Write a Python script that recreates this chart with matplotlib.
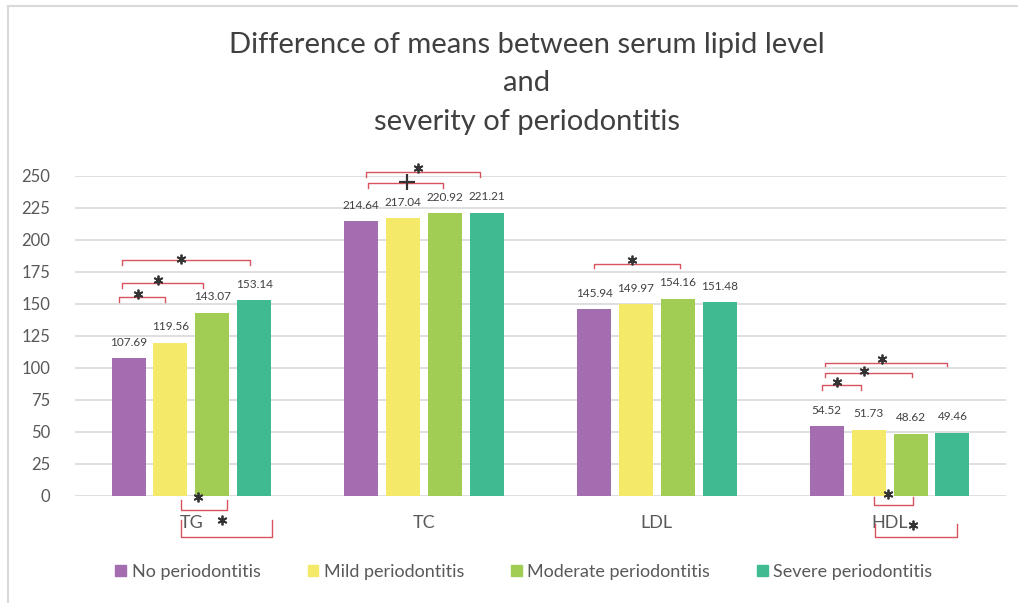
import numpy as np
import matplotlib.pyplot as plt
from matplotlib.lines import Line2D
from matplotlib.patches import Patch

#--- DATA ---#

lipids = ["TG", "TC", "LDL", "HDL"]
groups = ["No periodontitis", "Mild periodontitis", "Moderate periodontitis", "Severe periodontitis"]
no_perio = [107.69, 214.64, 145.94, 54.52]
mild_perio = [119.56, 217.04, 149.97, 51.73]
moderate_perio = [143.07, 220.92, 154.16, 48.62]
severe_perio = [153.14, 221.21, 151.48, 49.46]
yticks = np.arange(0, 251, 25)

# significance brackets: lipid index, left / right offset from group centre,
# bracket height, tick end height, symbol, symbol offset, symbol height
brackets = [
    (0, -0.311, -0.113, 155.5, 151.5, "*", -0.229, 158.0),
    (0, -0.298, 0.050, 166.4, 162.4, "*", -0.143, 168.5),
    (0, -0.298, 0.252, 184.4, 180.4, "*", -0.045, 185.0),
    (0, -0.045, 0.153, -10.9, -3.1, "*", 0.028, -0.8),
    (0, -0.045, 0.346, -32.0, -18.8, "*", 0.131, -18.8),
    (1, -0.241, 0.081, 244.5, 240.5, "+", -0.073, 245.3),
    (1, -0.249, 0.240, 253.1, 249.6, "*", -0.026, 256.0),
    (2, -0.271, 0.099, 181.2, 178.0, "*", -0.107, 184.4),
    (3, -0.289, -0.121, 86.7, 82.7, "*", -0.225, 89.0),
    (3, -0.276, 0.094, 96.1, 93.0, "*", -0.108, 97.7),
    (3, -0.276, 0.245, 103.9, 101.5, "*", -0.031, 107.0),
    (3, -0.069, 0.099, -7.0, -0.8, "*", -0.005, 1.6),
    (3, -0.061, 0.288, -32.0, -22.0, "*", 0.099, -22.7),
]

#--- STYLE ---#

cols = ["#A46DAF", "#F4E968", "#A2CD55", "#3FBA91"]
text_col = "#595959"
grid_col = "#D9D9D9"
red = "#D9535E"
font = ["Lato", "DejaVu Sans"]
plt.rcParams["font.family"] = font

bar_w = 0.146
step = 0.18

fig = plt.figure(figsize=(10.18, 6.03), dpi=100)
ax = fig.add_axes([75/1018, 1-496/603, 931/1018, 320/603])

series = [no_perio, mild_perio, moderate_perio, severe_perio]
x = np.arange(len(lipids))
for j, vals in enumerate(series):
    pos = x + (j - 1.5)*step
    ax.bar(pos, vals, width=bar_w, color=cols[j], zorder=3)
    for xx, v in zip(pos, vals):
        ax.annotate("%.2f" % v, (xx, v), xytext=(0, 11.5), textcoords="offset points",
                    ha="center", va="center", fontsize=8.5, color="#404040")

ax.set_xlim(-0.5, len(lipids) - 0.5)
ax.set_ylim(0, 250)
ax.set_yticks(yticks)
ax.set_xticks(x)
ax.set_xticklabels(lipids, fontsize=13, color=text_col)
ax.tick_params(axis="y", labelsize=12, labelcolor=text_col, length=0, pad=18)
ax.tick_params(axis="x", length=0, pad=14)
ax.yaxis.grid(True, color=grid_col, lw=1.2, zorder=0)
for s in ax.spines.values():
    s.set_visible(False)

# brackets
for g, x0, x1, yb, yt, sym, sx, sy in brackets:
    ax.plot([g + x0, g + x0, g + x1, g + x1], [yt, yb, yb, yt], color=red, lw=1,
            clip_on=False, zorder=4)
    if sym == "*":
        ax.plot(g + sx, sy, marker=(6, 2, 0), ms=7, mew=1.3, color="#333333",
                clip_on=False, zorder=5)
    else:
        ax.plot(g + sx, sy, marker="+", ms=11, mew=1.6, color="#333333",
                clip_on=False, zorder=5)

title_lines = ["Difference of means between serum lipid level", "and", "severity of periodontitis"]
for t, yp in zip(title_lines, [45, 83, 122]):
    fig.text(527/1018, 1-yp/603, t, ha="center", va="center", fontsize=21, color="#404040")

handles = [Patch(color=c) for c in cols]
fig.legend(handles, groups, loc="center", bbox_to_anchor=(524/1018, 1-572/603), ncol=4,
           frameon=False, fontsize=13, handlelength=0.6, handleheight=0.6,
           handletextpad=0.3, columnspacing=2.6, labelcolor=text_col)

# frame lines of the original picture
fig.add_artist(Line2D([8/1018, 8/1018], [0, 1-6/603], color=grid_col, lw=1.5))
fig.add_artist(Line2D([8/1018, 1], [1-6/603, 1-6/603], color=grid_col, lw=1.5))

plt.savefig("out.png", dpi=100)
